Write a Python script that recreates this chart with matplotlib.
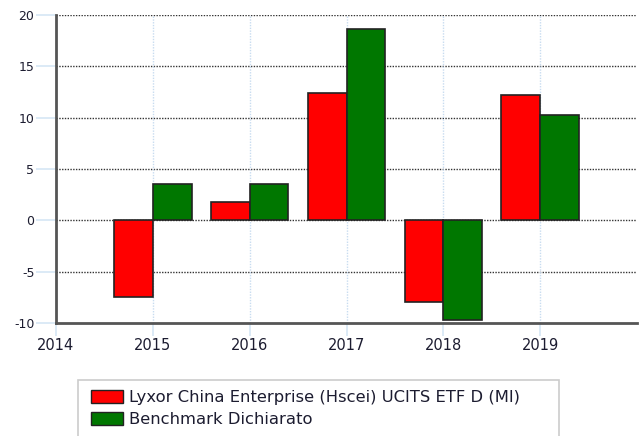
import matplotlib
matplotlib.use("Agg")
import matplotlib.pyplot as plt
from matplotlib.patches import Patch, Rectangle

years = [2015, 2016, 2017, 2018, 2019]
fund = [-7.5, 1.8, 12.4, -8.0, 12.2]
benchmark = [3.55, 3.55, 18.6, -9.7, 10.3]
labels = ["Lyxor China Enterprise (Hscei) UCITS ETF D (MI)", "Benchmark Dichiarato"]
xticks = [2014, 2015, 2016, 2017, 2018, 2019]
yticks = [-10, -5, 0, 5, 10, 15, 20]

plt.rcParams["axes.unicode_minus"] = False

W, H = 639, 436
fig = plt.figure(figsize=(W / 100, H / 100), dpi=100)
ax = fig.add_axes([56 / W, (H - 323) / H, (637 - 56) / W, (323 - 15) / H])

bw = 0.4
ax.bar([y - bw / 2 for y in years], fund, width=bw, color="#ff0000",
       edgecolor="#222222", linewidth=1.2, zorder=3)
ax.bar([y + bw / 2 for y in years], benchmark, width=bw, color="#007700",
       edgecolor="#222222", linewidth=1.2, zorder=3)

ax.set_xlim(2014, 2020)
ax.set_ylim(-10, 20)
ax.set_xticks(xticks)
ax.set_yticks(yticks)
ax.tick_params(axis="y", length=14.5, color="#d6e6f5", width=1.2, labelsize=9,
               labelcolor="#1c1c30", pad=1)
ax.tick_params(axis="x", length=9, color="#d6e6f5", width=1.2, labelsize=10.5,
               labelcolor="#1c1c30", pad=2)

for v in yticks[1:]:
    ax.axhline(v, color="#333333", lw=1, ls=(0, (1, 1)), zorder=1)
for x in years:
    ax.axvline(x, color="#c8dcf0", lw=1, ls=(0, (1, 1)), zorder=1)

for s in ("top", "right"):
    ax.spines[s].set_visible(False)
for s in ("left", "bottom"):
    ax.spines[s].set_color("#555555")
    ax.spines[s].set_linewidth(2)
    ax.spines[s].set_zorder(4)

# legend box below the plot
fig.patches.append(Rectangle((78 / W, -0.05), (559 - 78) / W, 0.05 + (H - 380) / H,
                             transform=fig.transFigure, facecolor="white",
                             edgecolor="#cccccc", lw=1.2))
handles = [Patch(facecolor="#ff0000", edgecolor="#222222"),
           Patch(facecolor="#007700", edgecolor="#222222")]
fig.legend(handles, labels, loc="upper left", bbox_to_anchor=(91 / W, 1 - 390 / H),
           frameon=False, fontsize=11.8, handlelength=1.95, handleheight=0.85,
           handletextpad=0.35, labelspacing=0.42, borderpad=0, borderaxespad=0,
           labelcolor="#1c1c30")

fig.savefig("out.png", dpi=100)
